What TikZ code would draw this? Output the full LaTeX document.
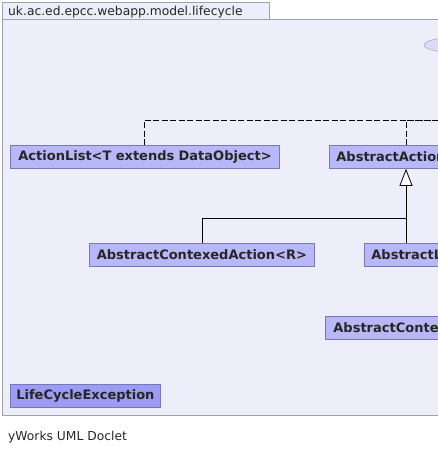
\documentclass[tikz,border=0pt]{standalone}
\usepackage{fontspec}
\setmainfont{DejaVu Sans}
\usetikzlibrary{arrows.meta,shapes.geometric,calc}
\definecolor{bodyfill}{HTML}{EEEEFA}
\definecolor{bodyline}{HTML}{A0A0B0}
\definecolor{boxfill}{HTML}{B8B8F8}
\definecolor{boxline}{HTML}{7878B8}
\definecolor{excfill}{HTML}{9C9CF4}
\definecolor{ellfill}{HTML}{DCDCF4}
\definecolor{ellline}{HTML}{9C9CC0}
\tikzset{
  classbox/.style={draw=boxline, fill=boxfill, line width=0.8pt, minimum height=23pt, inner sep=0pt, font=\fontsize{13}{15}\selectfont\bfseries, text=black!85, anchor=north west},
  plaintext/.style={anchor=base west, inner sep=0pt, font=\fontsize{12.3}{14}\selectfont, text=black!85},
  realize/.style={draw=black, line width=0.8pt, dash pattern=on 6pt off 2.5pt},
  inherit/.style={draw=black, line width=0.8pt},
  gentip/.style={-{Triangle[open, width=13pt, length=17pt, line width=0.8pt, fill=white]}}
}
\begin{document}
\begin{tikzpicture}[x=1pt, y=-1pt]
\useasboundingbox (0,0) rectangle (438,453);
\clip (0,0) rectangle (438,453);
% package frame
\draw[fill=bodyfill, draw=bodyline, line width=0.8pt] (2,19) rectangle (460,415);
\draw[fill=bodyfill, draw=bodyline, line width=0.8pt] (2,2) rectangle (269,19);
\node[plaintext] (pkg) at (8,15) {uk.ac.ed.epcc.webapp.model.lifecycle};
% ellipse (partially visible)
\node[draw=ellline, fill=ellfill, ellipse, minimum width=72pt, minimum height=16pt, inner sep=0pt] (iface) at (460,45) {};
% class boxes
\node[classbox, minimum width=269pt, align=left, text width=269pt] (actionlist) at (10,145) {\hspace{8pt}ActionList<T extends DataObject>};
\node[classbox, minimum width=180pt, text width=180pt, align=left] (abstractaction) at (329,145) {\hspace{7pt}AbstractAction};
\node[classbox, minimum width=225pt, text width=225pt, align=center] (contexed) at (89,243) {AbstractContexedAction<R>};
\node[classbox, minimum width=140pt, text width=140pt, align=left] (abstractl) at (364,243) {\hspace{7pt}AbstractL};
\node[classbox, minimum width=180pt, text width=180pt, align=left] (abstractconte) at (325,316) {\hspace{8pt}AbstractConte};
\node[classbox, fill=excfill, minimum width=150pt, text width=150pt, align=center] (exception) at (10,384) {LifeCycleException};
% off-picture end of the realization line
\coordinate (realend) at (460,120);
\draw[realize] ($(actionlist.north west)+(134,0)$) |- (realend);
\draw[realize] ($(abstractaction.north west)+(77,0)$) |- (realend);
% generalization
\coordinate (join) at (406,218);
\draw[inherit] ($(contexed.north west)+(113,0)$) |- (join);
\draw[inherit, gentip] ($(abstractl.north west)+(42,0)$) -- ($(abstractaction.south west)+(77,0)$);
% caption
\node[plaintext] (caption) at (8,440) {yWorks UML Doclet};
\end{tikzpicture}
\end{document}
